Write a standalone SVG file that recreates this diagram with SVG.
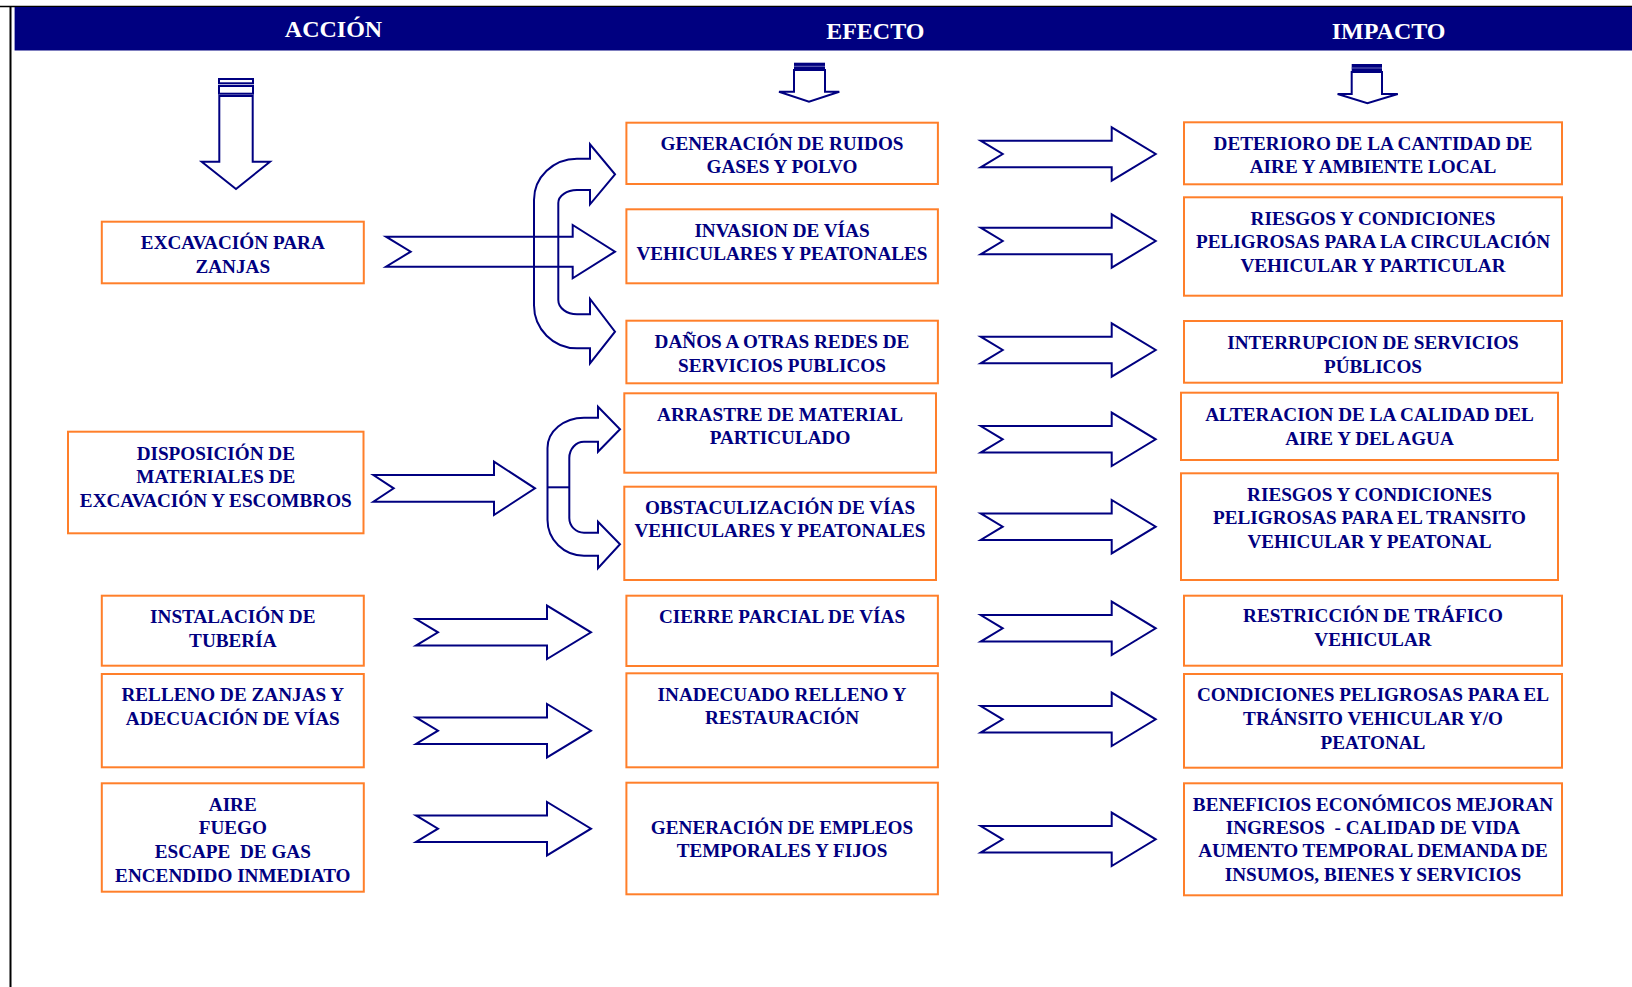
<svg xmlns="http://www.w3.org/2000/svg" width="1632" height="987" viewBox="0 0 1632 987">
<style>
.box{fill:#fff;stroke:#FF7F2A;stroke-width:2}
.t{font-family:"Liberation Serif","Times New Roman",serif;font-weight:bold;font-size:19.2px;fill:#000080;text-anchor:middle;white-space:pre}
.h{font-family:"Liberation Serif","Times New Roman",serif;font-weight:bold;font-size:24px;fill:#fff;text-anchor:middle}
.ar{fill:none;stroke:#000080;stroke-width:2;stroke-linejoin:miter}
.arf{fill:#fff;stroke:#000080;stroke-width:2}
</style>
<defs>
<path id="rarrow" d="M0,-13.3 L131,-13.3 L131,-26.7 L175,0 L131,26.7 L131,13.3 L0,13.3 L22,0 Z"/>
</defs>
<rect width="1632" height="987" fill="#fff"/>
<line x1="0" y1="6.5" x2="1632" y2="6.5" stroke="#000" stroke-width="1.5"/>
<line x1="10.5" y1="6" x2="10.5" y2="987" stroke="#000" stroke-width="2"/>
<rect x="14.6" y="7" width="1617.4" height="43.5" fill="#000080"/>
<g id="headers">
<text class="h" x="333.5" y="37">ACCIÓN</text>
<text class="h" x="875.3" y="38.5">EFECTO</text>
<text class="h" x="1388.6" y="38.5">IMPACTO</text>
</g>
<g id="connectors">
<rect class="arf" x="219" y="79" width="34" height="4.3"/>
<rect class="arf" x="219" y="86" width="34" height="7.7"/>
<path class="arf" d="M219.3,96 H252.7 V161.7 H270 L236,189 L201.7,161.7 H219.3 Z"/>
<path class="arf" d="M794,70 H825 V91.7 H839.3 L809,101.7 L779,91.7 H794 Z"/>
<rect x="794" y="62.7" width="31" height="7.3" fill="#000080"/>
<line x1="794" y1="66.3" x2="825" y2="66.3" stroke="#6a6ab8" stroke-width="1"/>
<path class="arf" d="M1351.7,72 H1382 V94 H1397.8 L1367.4,103.3 L1337.6,94 H1351.7 Z"/>
<rect x="1351.7" y="64" width="30.3" height="8" fill="#000080"/>
<line x1="1351.7" y1="68" x2="1382" y2="68" stroke="#6a6ab8" stroke-width="1"/>
<path class="ar" d="M386,236.7 L572.7,236.7 L572.7,225 L615,251.7 L572.7,278.3 L572.7,266.7 L386,266.7 L410.7,251.7 Z"/>
<path class="ar" d="M615,174.3 L590,204.3 L590,190 L577,190 A18.7,13 0 0 0 558.3,203 L558.3,300 A18.7,14.3 0 0 0 577,314.3 L590,314.3 L590,299 L615,331.7 L590,363.3 L590,348.3 L577,348.3 A43,43 0 0 1 534,305.3 L534,200 A43,41.3 0 0 1 577,158.7 L590,158.7 L590,144.3 Z"/>
<path class="ar" d="M373.4,475 L494,475 L494,461.7 L535,488.3 L494,515 L494,501.7 L373.4,501.7 L393.7,488.3 Z"/>
<path class="ar" d="M620,429.3 L598,451.7 L598,441.7 L584,441.7 A14.7,16.3 0 0 0 569.3,458 L569.3,518 A14.7,14.7 0 0 0 584,532.7 L598,532.7 L598,521.7 L620,544.3 L598,568.3 L598,555.7 L584,555.7 A36.5,35.7 0 0 1 547.5,520 L547.5,448 A36.5,30.3 0 0 1 584,417.7 L598,417.7 L598,406.7 Z"/>
<line x1="547.5" y1="487.3" x2="569.3" y2="487.3" stroke="#000080" stroke-width="2"/>
<use href="#rarrow" class="ar" transform="translate(416,632.3)"/>
<use href="#rarrow" class="ar" transform="translate(416,730.7)"/>
<use href="#rarrow" class="ar" transform="translate(416,828.7)"/>
<use href="#rarrow" class="ar" transform="translate(980.7,154)"/>
<use href="#rarrow" class="ar" transform="translate(980.7,241)"/>
<use href="#rarrow" class="ar" transform="translate(980.7,350)"/>
<use href="#rarrow" class="ar" transform="translate(980.7,439.3)"/>
<use href="#rarrow" class="ar" transform="translate(980.7,526.7)"/>
<use href="#rarrow" class="ar" transform="translate(980.7,628.3)"/>
<use href="#rarrow" class="ar" transform="translate(980.7,719.3)"/>
<use href="#rarrow" class="ar" transform="translate(980.7,839.3)"/>
</g>
<g id="a1"><rect class="box" x="101.8" y="221.7" width="262" height="61.6"/>
<text class="t" x="232.8" y="249.3">EXCAVACIÓN PARA</text><text class="t" x="232.8" y="272.7">ZANJAS</text></g>
<g id="a2"><rect class="box" x="68" y="431.7" width="295.5" height="101.6"/>
<text class="t" x="215.8" y="460">DISPOSICIÓN DE</text><text class="t" x="215.8" y="482.5">MATERIALES DE</text><text class="t" x="215.8" y="506.7">EXCAVACIÓN Y ESCOMBROS</text></g>
<g id="a3"><rect class="box" x="101.8" y="595.7" width="262" height="70"/>
<text class="t" x="232.8" y="622.7">INSTALACIÓN DE</text><text class="t" x="232.8" y="646.7">TUBERÍA</text></g>
<g id="a4"><rect class="box" x="101.8" y="674" width="262" height="93.3"/>
<text class="t" x="232.8" y="700.7">RELLENO DE ZANJAS Y</text><text class="t" x="232.8" y="725">ADECUACIÓN DE VÍAS</text></g>
<g id="a5"><rect class="box" x="101.8" y="783.3" width="262" height="108.4"/>
<text class="t" x="232.8" y="810.7">AIRE</text><text class="t" x="232.8" y="834">FUEGO</text><text class="t" x="232.8" y="857.7">ESCAPE  DE GAS</text><text class="t" x="232.8" y="881.7">ENCENDIDO INMEDIATO</text></g>
<g id="e1"><rect class="box" x="626.4" y="122.7" width="311.5" height="61.3"/>
<text class="t" x="782" y="150">GENERACIÓN DE RUIDOS</text><text class="t" x="782" y="173.3">GASES Y POLVO</text></g>
<g id="e2"><rect class="box" x="626.4" y="209.3" width="311.5" height="74"/>
<text class="t" x="782" y="236.7">INVASION DE VÍAS</text><text class="t" x="782" y="260">VEHICULARES Y PEATONALES</text></g>
<g id="e3"><rect class="box" x="626.4" y="320.7" width="311.5" height="62.6"/>
<text class="t" x="782" y="348.3">DAÑOS A OTRAS REDES DE</text><text class="t" x="782" y="372.3">SERVICIOS PUBLICOS</text></g>
<g id="e4"><rect class="box" x="624.3" y="393.3" width="311.7" height="79.4"/>
<text class="t" x="780" y="421">ARRASTRE DE MATERIAL</text><text class="t" x="780" y="444.3">PARTICULADO</text></g>
<g id="e5"><rect class="box" x="624.3" y="486.7" width="311.7" height="93.3"/>
<text class="t" x="780" y="514.3">OBSTACULIZACIÓN DE VÍAS</text><text class="t" x="780" y="537.3">VEHICULARES Y PEATONALES</text></g>
<g id="e6"><rect class="box" x="626.4" y="595.7" width="311.5" height="70.3"/>
<text class="t" x="782" y="623.3">CIERRE PARCIAL DE VÍAS</text></g>
<g id="e7"><rect class="box" x="626.4" y="673.3" width="311.5" height="94"/>
<text class="t" x="782" y="700.7">INADECUADO RELLENO Y</text><text class="t" x="782" y="724.3">RESTAURACIÓN</text></g>
<g id="e8"><rect class="box" x="626.4" y="782.7" width="311.5" height="111.6"/>
<text class="t" x="782" y="834">GENERACIÓN DE EMPLEOS</text><text class="t" x="782" y="857.3">TEMPORALES Y FIJOS</text></g>
<g id="i1"><rect class="box" x="1184" y="122.3" width="378" height="62"/>
<text class="t" x="1373" y="150">DETERIORO DE LA CANTIDAD DE</text><text class="t" x="1373" y="173.3">AIRE Y AMBIENTE LOCAL</text></g>
<g id="i2"><rect class="box" x="1184" y="197.3" width="378" height="98.4"/>
<text class="t" x="1373" y="225">RIESGOS Y CONDICIONES</text><text class="t" x="1373" y="247.7">PELIGROSAS PARA LA CIRCULACIÓN</text><text class="t" x="1373" y="271.7">VEHICULAR Y PARTICULAR</text></g>
<g id="i3"><rect class="box" x="1184" y="321" width="378" height="61.7"/>
<text class="t" x="1373" y="349.3">INTERRUPCION DE SERVICIOS</text><text class="t" x="1373" y="373.3">PÚBLICOS</text></g>
<g id="i4"><rect class="box" x="1181" y="392.7" width="377" height="67.3"/>
<text class="t" x="1369.5" y="420.7">ALTERACION DE LA CALIDAD DEL</text><text class="t" x="1369.5" y="445">AIRE Y DEL AGUA</text></g>
<g id="i5"><rect class="box" x="1181" y="473.3" width="377" height="106.7"/>
<text class="t" x="1369.5" y="500.7">RIESGOS Y CONDICIONES</text><text class="t" x="1369.5" y="524">PELIGROSAS PARA EL TRANSITO</text><text class="t" x="1369.5" y="547.7">VEHICULAR Y PEATONAL</text></g>
<g id="i6"><rect class="box" x="1184" y="595.7" width="378" height="70"/>
<text class="t" x="1373" y="622.3">RESTRICCIÓN DE TRÁFICO</text><text class="t" x="1373" y="646">VEHICULAR</text></g>
<g id="i7"><rect class="box" x="1184" y="674" width="378" height="93.7"/>
<text class="t" x="1373" y="700.7">CONDICIONES PELIGROSAS PARA EL</text><text class="t" x="1373" y="725">TRÁNSITO VEHICULAR Y/O</text><text class="t" x="1373" y="749">PEATONAL</text></g>
<g id="i8"><rect class="box" x="1184" y="783.3" width="378" height="112"/>
<text class="t" x="1373" y="810.7">BENEFICIOS ECONÓMICOS MEJORAN</text><text class="t" x="1373" y="834">INGRESOS  - CALIDAD DE VIDA</text><text class="t" x="1373" y="857.3">AUMENTO TEMPORAL DEMANDA DE</text><text class="t" x="1373" y="881">INSUMOS, BIENES Y SERVICIOS</text></g>
</svg>
